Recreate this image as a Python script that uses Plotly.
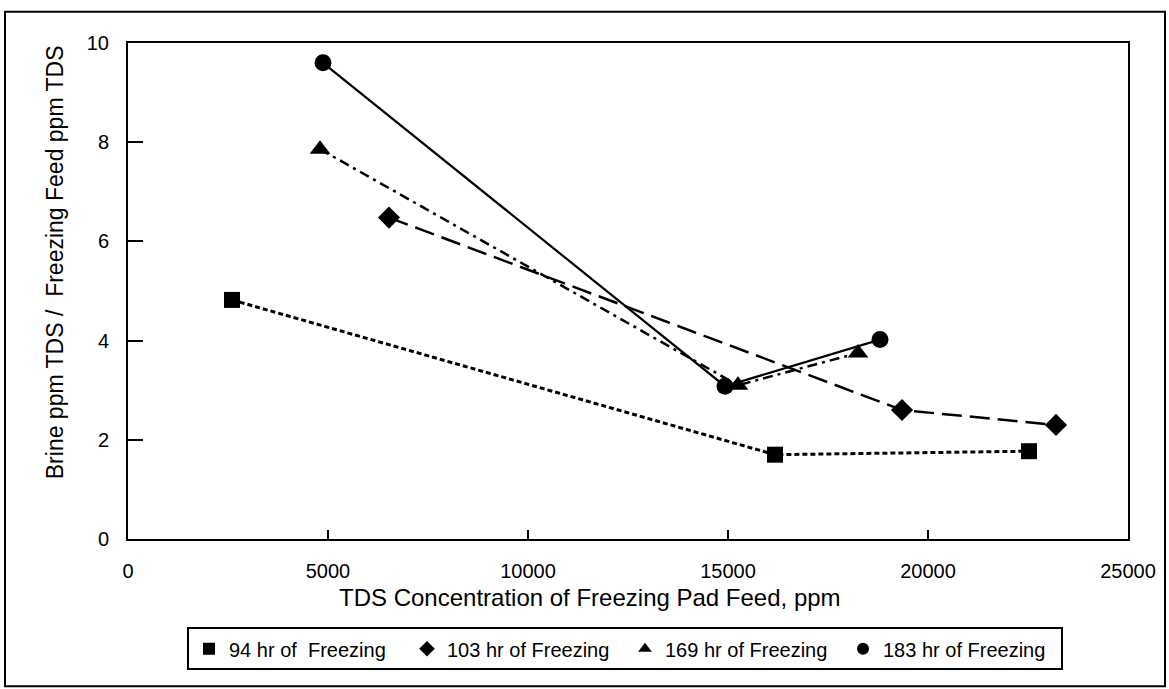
import plotly.graph_objects as go

# Data
x_94 = [2600, 16175, 22525]
y_94 = [4.82, 1.70, 1.77]
x_103 = [6525, 19350, 23200]
y_103 = [6.48, 2.60, 2.30]
x_169 = [4800, 15250, 18250]
y_169 = [7.86, 3.10, 3.75]
x_183 = [4875, 14925, 18800]
y_183 = [9.60, 3.08, 4.02]

x_ticks = [0, 5000, 10000, 15000, 20000, 25000]
x_ticktext = ["0", "5000", "10000", "15000", "20000", "25000"]
y_ticks = [0, 2, 4, 6, 8, 10]

x_title = "TDS Concentration of Freezing Pad Feed, ppm"
y_title = "Brine ppm TDS /  Freezing Feed ppm TDS"

names = ["94 hr of  Freezing", "103 hr of Freezing", "169 hr of Freezing", "183 hr of Freezing"]
xs = [x_94, x_103, x_169, x_183]
ys = [y_94, y_103, y_169, y_183]
symbols = ["square", "diamond", "triangle-up", "circle"]
sizes = [16, 17, 18, 17]
dashes = ["5px,3px", "20px,8px", "10px,5px,3px,5px", "solid"]
widths = [3, 2.5, 2.5, 2.2]

FONT = "Liberation Sans, Arial, Helvetica, sans-serif"

fig = go.Figure()
for x, y, sym, sz, d, w in zip(xs, ys, symbols, sizes, dashes, widths):
    fig.add_trace(go.Scatter(
        x=x, y=y, mode="lines+markers", showlegend=False,
        line=dict(color="black", width=w, dash=d),
        marker=dict(symbol=sym, size=sz, color="black"),
        cliponaxis=False,
    ))
for n, sym in zip(names, symbols):
    fig.add_trace(go.Scatter(
        x=[None], y=[None], mode="markers", name=n,
        marker=dict(symbol=sym, size=15, color="black"),
    ))

fig.update_layout(
    width=1169, height=689,
    margin=dict(l=128, r=41, t=43, b=150),
    paper_bgcolor="white", plot_bgcolor="white",
    font=dict(family=FONT, color="black", size=20),
    legend=dict(
        orientation="h", x=0.059, xanchor="left", y=-0.178, yanchor="top",
        bordercolor="black", borderwidth=2, font=dict(size=20, family=FONT),
        entrywidth=173, entrywidthmode="pixels", itemsizing="constant",
        tracegroupgap=0,
    ),
    shapes=[dict(type="rect", xref="paper", yref="paper",
                 x0=-0.123, x1=1.037, y0=-0.297, y1=1.063,
                 line=dict(color="black", width=2))],
    annotations=[
        dict(text=x_title, xref="paper", yref="paper", x=0.462, y=-0.118,
             xanchor="center", yanchor="middle", showarrow=False,
             font=dict(size=24, family=FONT)),
        dict(text=y_title, xref="paper", yref="paper", x=-0.073, y=0.558,
             xanchor="center", yanchor="middle", showarrow=False, textangle=-90,
             font=dict(size=23, family=FONT)),
    ],
)
fig.update_xaxes(
    range=[0, 25000], tickvals=x_ticks, ticktext=x_ticktext,
    ticks="inside", ticklen=9, tickwidth=2, tickcolor="black",
    showline=True, linecolor="black", linewidth=2, mirror=True,
    showgrid=False, zeroline=False,
    tickfont=dict(size=20), ticklabelstandoff=13,
)
fig.update_yaxes(
    range=[0, 10], tickvals=y_ticks,
    ticks="inside", ticklen=15, tickwidth=2, tickcolor="black",
    showline=True, linecolor="black", linewidth=2, mirror=True,
    showgrid=False, zeroline=False,
    tickfont=dict(size=20), ticklabelstandoff=13,
)

fig.write_html("out.html")
